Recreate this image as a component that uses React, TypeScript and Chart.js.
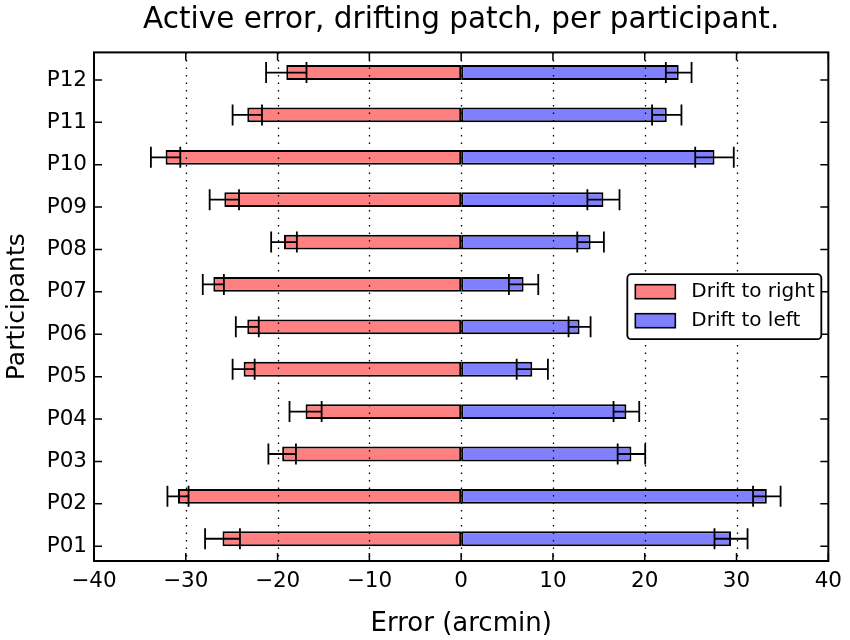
import { useEffect, useRef } from 'react';
import { Chart, registerables } from 'chart.js';

Chart.register(...registerables);

const participants = ['P01', 'P02', 'P03', 'P04', 'P05', 'P06', 'P07', 'P08', 'P09', 'P10', 'P11', 'P12'];

// drift to right (plotted to the left of zero)
const driftRight = [-26.0, -30.85, -19.5, -16.95, -23.7, -23.3, -27.0, -19.3, -25.8, -32.2, -23.3, -19.05];
const driftRightErr = [1.9, 1.15, 1.5, 1.75, 1.2, 1.25, 1.15, 1.4, 1.6, 1.6, 1.6, 2.2];

// drift to left
const driftLeft = [29.4, 33.3, 18.55, 18.0, 7.75, 12.9, 6.8, 14.1, 15.5, 27.6, 22.4, 23.7];
const driftLeftErr = [1.8, 1.5, 1.5, 1.4, 1.7, 1.2, 1.6, 1.45, 1.75, 2.1, 1.6, 1.4];

const xTicks = [-40, -30, -20, -10, 0, 10, 20, 30, 40];

const BAR_H = 0.35; // bar height in y units, bars sit on top of the tick (edge aligned)
const FONT = '"DejaVu Sans", sans-serif';

const overlay = {
  id: 'overlay',
  afterDatasetsDraw(chart: any) {
    const { ctx, chartArea: a, scales } = chart;
    const x = scales.x;
    const y = scales.y;
    ctx.save();

    // dotted vertical grid, drawn over the bars
    ctx.strokeStyle = '#000';
    ctx.lineWidth = 1.3;
    ctx.setLineDash([1.5, 6]);
    xTicks.forEach((v) => {
      const px = Math.round(x.getPixelForValue(v)) + 0.5;
      if (px <= a.left + 2 || px >= a.right - 2) return;
      ctx.beginPath();
      ctx.moveTo(px, a.top);
      ctx.lineTo(px, a.bottom);
      ctx.stroke();
    });
    ctx.setLineDash([]);

    // error bars
    ctx.lineWidth = 1.8;
    chart.data.datasets.forEach((ds: any, di: number) => {
      const meta = chart.getDatasetMeta(di);
      meta.data.forEach((bar: any, j: number) => {
        const v = ds.data[j].x;
        const e = ds.errors[j];
        const x0 = x.getPixelForValue(v - e);
        const x1 = x.getPixelForValue(v + e);
        const cy = bar.y;
        ctx.beginPath();
        ctx.moveTo(x0, cy);
        ctx.lineTo(x1, cy);
        ctx.moveTo(x0, cy - 10.5);
        ctx.lineTo(x0, cy + 10.5);
        ctx.moveTo(x1, cy - 10.5);
        ctx.lineTo(x1, cy + 10.5);
        ctx.stroke();
      });
    });

    // frame
    ctx.lineWidth = 2;
    ctx.strokeRect(a.left, a.top, a.right - a.left, a.bottom - a.top);

    // inward ticks on all sides
    ctx.lineWidth = 1.5;
    ctx.beginPath();
    xTicks.forEach((v) => {
      const px = x.getPixelForValue(v);
      ctx.moveTo(px, a.bottom);
      ctx.lineTo(px, a.bottom - 8);
      ctx.moveTo(px, a.top);
      ctx.lineTo(px, a.top + 8);
    });
    participants.forEach((_, i) => {
      const py = y.getPixelForValue(i);
      ctx.moveTo(a.left, py);
      ctx.lineTo(a.left + 8, py);
      ctx.moveTo(a.right, py);
      ctx.lineTo(a.right - 8, py);
    });
    ctx.stroke();

    // legend, center right inside the axes
    const boxW = 194;
    const boxH = 65;
    const bx = a.right - 7 - boxW;
    const by = (a.top + a.bottom) / 2 - boxH / 2;
    ctx.fillStyle = '#fff';
    ctx.lineWidth = 1.8;
    ctx.beginPath();
    ctx.roundRect(bx, by, boxW, boxH, 4);
    ctx.fill();
    ctx.stroke();
    ctx.font = `20px ${FONT}`;
    ctx.textBaseline = 'middle';
    ctx.textAlign = 'left';
    ctx.lineWidth = 1.6;
    chart.data.datasets.forEach((ds: any, di: number) => {
      const rowY = by + 17.5 + di * 29;
      ctx.fillStyle = ds.backgroundColor;
      ctx.fillRect(bx + 8, rowY - 7, 40, 14);
      ctx.strokeStyle = '#000';
      ctx.strokeRect(bx + 8, rowY - 7, 40, 14);
      ctx.fillStyle = '#000';
      ctx.fillText(ds.label, bx + 64, rowY);
    });

    ctx.restore();
  },
};

export default function App() {
  const canvasRef = useRef<HTMLCanvasElement>(null);
  const chartRef = useRef<Chart | null>(null);

  useEffect(() => {
    document.body.style.margin = '0';
    if (!canvasRef.current) return;
    if (chartRef.current) chartRef.current.destroy();
    const ctx = canvasRef.current.getContext('2d');
    if (!ctx) return;

    chartRef.current = new Chart(ctx, {
      type: 'bar',
      data: {
        datasets: [
          {
            label: 'Drift to right',
            data: driftRight.map((v, i) => ({ x: v, y: i + BAR_H / 2 })),
            errors: driftRightErr,
            backgroundColor: 'rgb(255, 128, 128)',
            borderColor: '#000',
            borderWidth: 2,
            borderSkipped: false,
            grouped: false,
            categoryPercentage: 1,
            barPercentage: BAR_H,
          } as any,
          {
            label: 'Drift to left',
            data: driftLeft.map((v, i) => ({ x: v, y: i + BAR_H / 2 })),
            errors: driftLeftErr,
            backgroundColor: 'rgb(128, 128, 255)',
            borderColor: '#000',
            borderWidth: 2,
            borderSkipped: false,
            grouped: false,
            categoryPercentage: 1,
            barPercentage: BAR_H,
          } as any,
        ],
      },
      options: {
        indexAxis: 'y',
        responsive: false,
        animation: false,
        layout: { padding: { left: 0, right: 20, top: 0, bottom: 0 } },
        plugins: {
          legend: { display: false },
          tooltip: { enabled: false },
          title: {
            display: true,
            text: 'Active error, drifting patch, per participant.',
            color: '#000',
            fullSize: false,
            font: { family: FONT, size: 29.5, weight: 'normal' },
            padding: { top: 3, bottom: 14 },
          },
        },
        scales: {
          x: {
            type: 'linear',
            min: -40,
            max: 40,
            afterBuildTicks: (scale: any) => {
              scale.ticks = xTicks.map((v) => ({ value: v }));
            },
            afterFit: (scale: any) => {
              scale.height = 79;
            },
            grid: { display: false, drawTicks: false },
            border: { display: false },
            ticks: {
              color: '#000',
              padding: 8,
              font: { family: FONT, size: 21.5 },
              callback: (v: any) => (v < 0 ? '\u2212' + Math.abs(v) : String(v)),
            },
            title: {
              display: true,
              text: 'Error (arcmin)',
              color: '#000',
              font: { family: FONT, size: 26 },
              padding: { top: 0, bottom: 0 },
            },
          },
          y: {
            type: 'linear',
            offset: false,
            min: -BAR_H,
            max: 12 - BAR_H,
            afterBuildTicks: (scale: any) => {
              scale.ticks = participants.map((_, i) => ({ value: i }));
            },
            afterFit: (scale: any) => {
              scale.width = 94;
            },
            grid: { display: false, drawTicks: false },
            border: { display: false },
            ticks: {
              color: '#000',
              padding: 7,
              font: { family: FONT, size: 21.5 },
              callback: (v: any) => participants[v] ?? '',
            },
            title: {
              display: true,
              text: 'Participants',
              color: '#000',
              font: { family: FONT, size: 25 },
              padding: { top: 2, bottom: 0 },
            },
          },
        },
      },
      plugins: [overlay],
    });

    return () => {
      if (chartRef.current) {
        chartRef.current.destroy();
        chartRef.current = null;
      }
    };
  }, []);

  return <canvas ref={canvasRef} width={850} height={640} />;
}
